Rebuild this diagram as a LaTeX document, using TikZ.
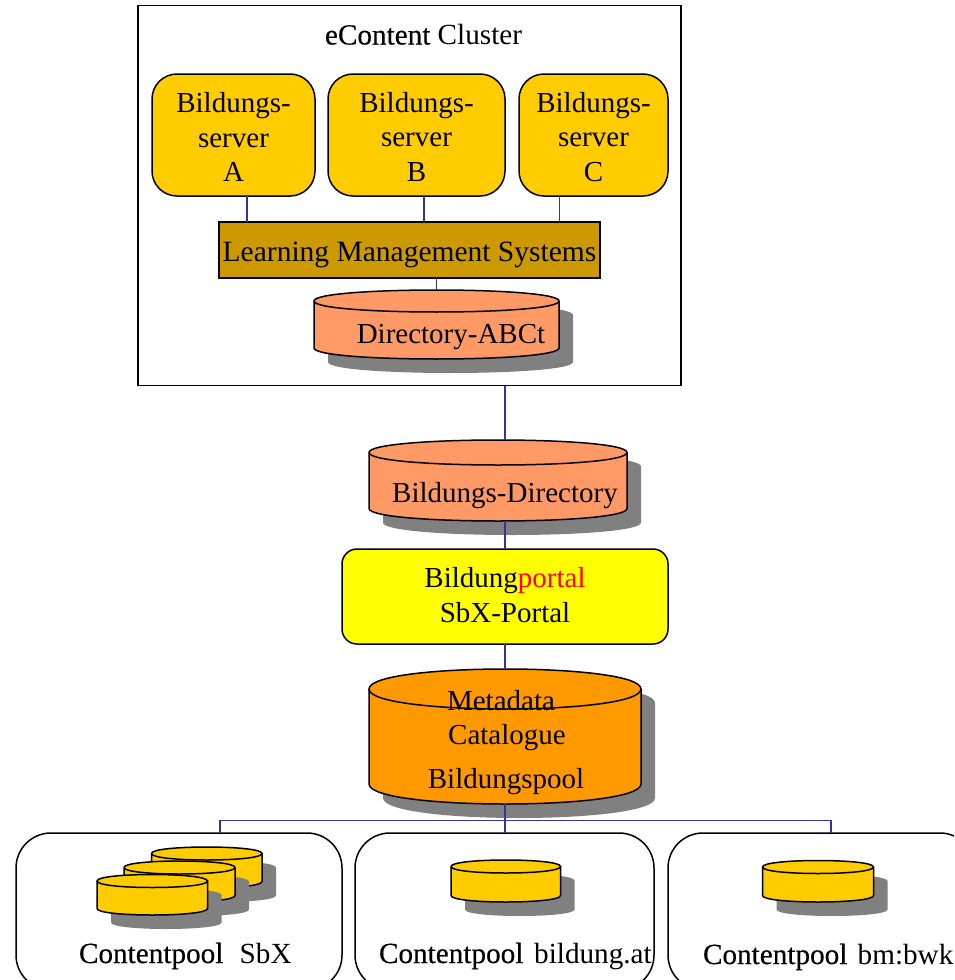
\documentclass[tikz,border=0pt]{standalone}
\usepackage{fontspec}
\setmainfont{Liberation Serif}
\newfontfamily\heavyface[FakeBold=0.3]{Liberation Serif}
\definecolor{gold}{RGB}{255,204,0}
\definecolor{lmsbrown}{RGB}{204,153,0}
\definecolor{salmon}{RGB}{255,153,102}
\definecolor{poolorange}{RGB}{255,153,0}
\definecolor{linkblue}{RGB}{51,51,153}
\definecolor{shadowgray}{RGB}{128,128,128}
\definecolor{portalyellow}{RGB}{255,255,0}
\definecolor{portalred}{RGB}{255,0,0}
\tikzset{
  x=1pt,y=-1pt,
  every node/.style={font=\fontsize{29}{34.5}\selectfont,inner sep=0pt,outer sep=0pt},
  outline/.style={draw=black,line width=1.5pt},
  clusterbox/.style={outline,fill=white,rectangle},
  serverbox/.style={outline,fill=gold,rectangle,rounded corners=25pt,align=center},
  lmsbox/.style={outline,fill=lmsbrown,rectangle,font=\fontsize{29.5}{34.5}\selectfont},
  portalbox/.style={outline,fill=portalyellow,rectangle,rounded corners=15pt,align=center},
  poolbox/.style={outline,fill=white,rectangle,rounded corners=35pt},
  caption/.style={anchor=base west,font=\fontsize{29.2}{34.5}\selectfont},
  capcentre/.style={anchor=base},
  link/.style={draw=linkblue,line width=1.5pt}
}
% name, x1, x2, top, bottom, ry, fill
\newcommand{\drumshape}[7]{%
  \pgfmathsetmacro{\dya}{#4+#6}%
  \pgfmathsetmacro{\dyb}{#5-#6}%
  \pgfmathsetmacro{\dyc}{#4+#6-1.333*#6}%
  \pgfmathsetmacro{\dyd}{#4+#6+1.333*#6}%
  \pgfmathsetmacro{\dye}{#5-#6+1.333*#6}%
  \pgfmathsetmacro{\dcx}{(#2+#3)/2}%
  \pgfmathsetmacro{\dcy}{(#4+#5)/2}%
  \fill[shadowgray,shift={(14,14)}] (#2,\dya) .. controls (#2,\dyc) and (#3,\dyc) .. (#3,\dya) -- (#3,\dyb) .. controls (#3,\dye) and (#2,\dye) .. (#2,\dyb) -- cycle;
  \path[outline,fill=#7] (#2,\dya) .. controls (#2,\dyc) and (#3,\dyc) .. (#3,\dya) -- (#3,\dyb) .. controls (#3,\dye) and (#2,\dye) .. (#2,\dyb) -- cycle;
  \draw[outline] (#2,\dya) .. controls (#2,\dyd) and (#3,\dyd) .. (#3,\dya);
  \pgfmathsetmacro{\dwid}{#3-#2}%
  \pgfmathsetmacro{\dhei}{#5-#4}%
  \node[rectangle,minimum width=\dwid pt,minimum height=\dhei pt] (#1) at (\dcx,\dcy) {};
}
\newcommand{\topstrut}{\rule{0pt}{24pt}}
\begin{document}
\begin{tikzpicture}
\useasboundingbox (0,0) rectangle (954,980);
\clip (0,0) rectangle (954,980);
\node[clusterbox,minimum width=543pt,minimum height=380pt] (cluster) at (409.5,195.5) {};
\node[caption] (clusterlabel) at (325,44.5) {{\heavyface eContent} Cluster};
\node[serverbox,minimum width=163pt,minimum height=122pt] (srva) at (233.5,135) {\topstrut Bildungs-\\server\\A};
\node[serverbox,minimum width=177pt,minimum height=122pt] (srvb) at (416.5,135) {\topstrut Bildungs-\\server\\B};
\node[serverbox,minimum width=149pt,minimum height=122pt] (srvc) at (593.5,135) {\topstrut Bildungs-\\server\\C};
\node[lmsbox,minimum width=381pt,minimum height=56pt] (lms) at (409.5,250) {\rule{0pt}{30pt}Learning Management Systems};
\drumshape{dirabc}{314}{559}{290}{359}{11}{salmon}
\node[capcentre] (dirabclabel) at (451,343.5) {Directory-ABCt};
\drumshape{dirbild}{369}{627}{440}{521}{12.5}{salmon}
\node[capcentre] (dirbildlabel) at (505,502) {Bildungs-Directory};
\node[portalbox,minimum width=326pt,minimum height=95pt] (portal) at (505,596.5) {Bildung\textcolor{portalred}{portal}\\SbX-Portal\rule[-3pt]{0pt}{1pt}};
\drumshape{meta}{369}{641}{669}{804}{20}{poolorange}
\node[capcentre] (metaa) at (501,710) {Metadata};
\node[capcentre] (metab) at (507,744) {Catalogue};
\node[capcentre] (metac) at (506,788) {Bildungspool};
\node[poolbox,minimum width=326pt,minimum height=157pt] (poola) at (179,911.5) {};
\node[poolbox,minimum width=299pt,minimum height=157pt] (poolb) at (504.5,911.5) {};
\node[poolbox,minimum width=307pt,minimum height=157pt] (poolc) at (821.5,911.5) {};
\drumshape{cyla}{151.5}{262}{847}{888}{6.5}{gold}
\drumshape{cylb}{124}{235}{861}{902}{6.5}{gold}
\drumshape{cylc}{97}{207.5}{874.5}{915}{6.5}{gold}
\drumshape{cyld}{451}{560.5}{860}{902}{6.5}{gold}
\drumshape{cyle}{762.5}{873.5}{860.5}{902}{6.5}{gold}
\node[caption] (capa) at (79,963) {{\heavyface Contentpool}\hspace{9pt} SbX};
\node[caption] (capb) at (379,963) {{\heavyface Contentpool}\hspace{3.5pt} bildung.at};
\node[caption] (capc) at (703,964) {{\heavyface Contentpool}\hspace{3pt} bm:bwk};
% connectors
\draw[link] ([xshift=13.5pt]srva.south) -- ([xshift=13.5pt]srva.south |- lms.north);
\draw[link] ([xshift=7.5pt]srvb.south) -- ([xshift=7.5pt]srvb.south |- lms.north);
\draw[link] ([xshift=-34pt]srvc.south) -- ([xshift=-34pt]srvc.south |- lms.north);
\draw[link] (lms.south -| dirabc.north) -- (dirabc.north);
\draw[link] (cluster.south -| portal.north) -- (dirbild.north -| portal.north);
\draw[link] (dirbild.south -| portal.north) -- (portal.north);
\draw[link] (portal.south) -- (meta.north -| portal.south);
\coordinate (fork) at (505,820.7);
\draw[link] (meta.south -| fork) -- (poolb.north -| fork);
\draw[link] ([xshift=41pt]poola.north) -- ([xshift=41pt]poola.north |- fork) -- (fork);
\draw[link] ([xshift=9.5pt]poolc.north) -- ([xshift=9.5pt]poolc.north |- fork) -- (fork);
\end{tikzpicture}
\end{document}
